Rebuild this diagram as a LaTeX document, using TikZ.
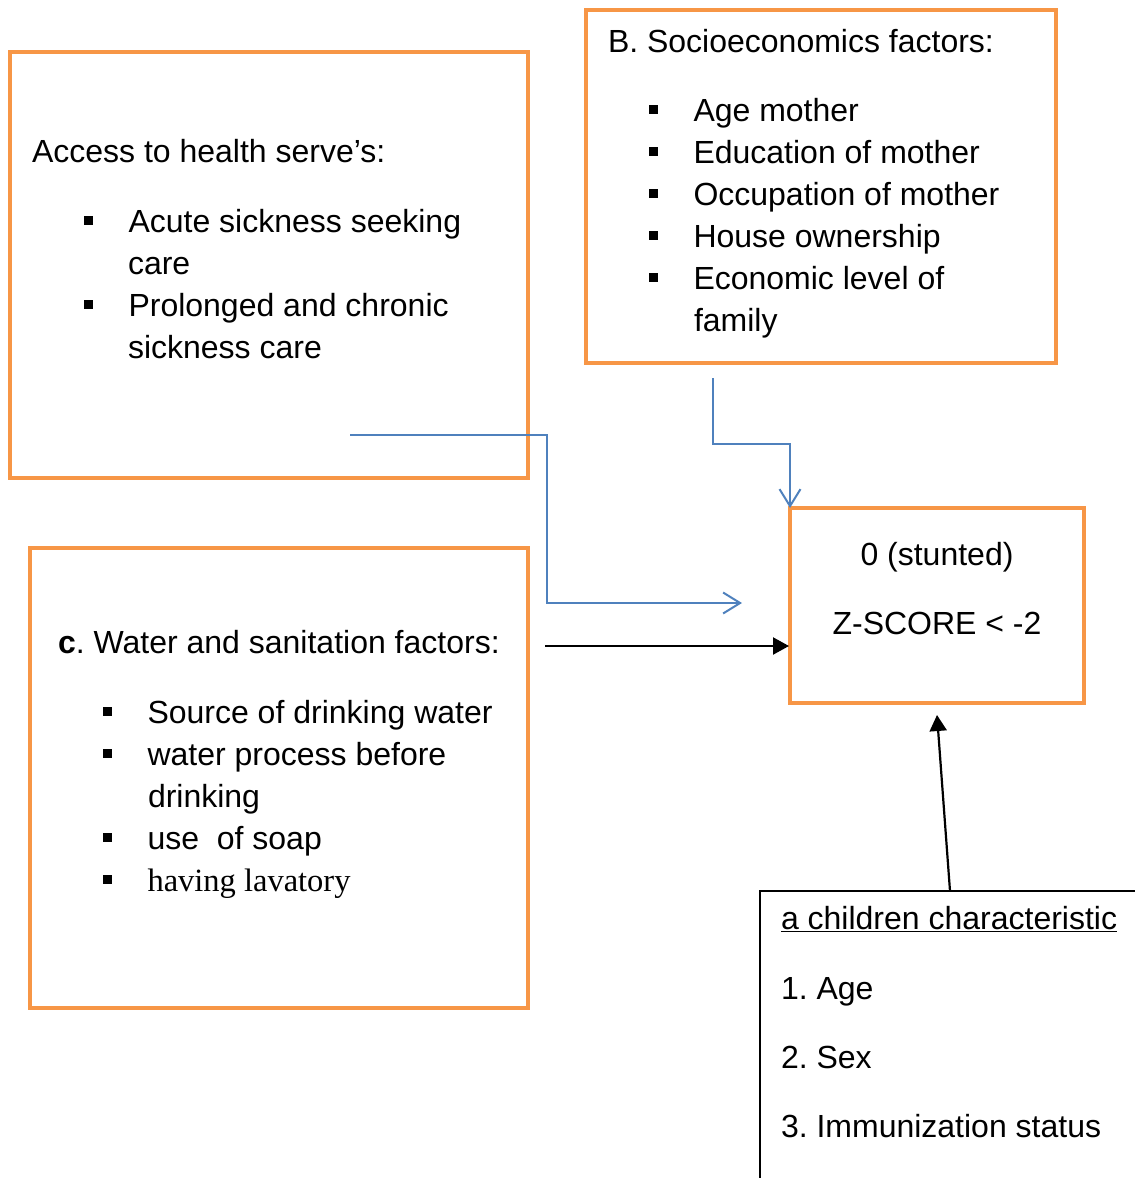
\documentclass[tikz,border=0pt]{standalone}
\usepackage{fontspec}
\setmainfont{Liberation Sans}
\newfontfamily\seriffont{Liberation Serif}
\usetikzlibrary{arrows.meta}
\definecolor{boxorange}{HTML}{F79646}
\definecolor{linkblue}{HTML}{4F81BD}
\newcommand\bulsq{\makebox[45pt][l]{\rule[7.5pt]{9pt}{9pt}}}
\frenchspacing
\begin{document}
\begin{tikzpicture}[x=1pt,y=-1pt,
  obox/.style={draw=boxorange,line width=4.5pt,inner sep=0pt,outer sep=0pt,rectangle},
  txt/.style={anchor=base west,inner sep=0pt,outer sep=0pt,font=\fontsize{32}{38}\selectfont},
  ctxt/.style={anchor=base,inner sep=0pt,outer sep=0pt,font=\fontsize{32}{38}\selectfont},
  bluelink/.style={draw=linkblue,line width=2pt,-{Straight Barb[length=17pt,width=21pt]}},
  blacklink/.style={draw=black,line width=2.2pt,-{Triangle[length=16pt,width=17pt]}}]
\useasboundingbox (0,0) rectangle (1135,1178);
\clip (0,0) rectangle (1135,1178);

% boxes
\node[obox,minimum width=518pt,minimum height=426pt] (boxA) at (269,265) {};
\node[obox,minimum width=470pt,minimum height=353pt] (boxB) at (821,186.5) {};
\node[obox,minimum width=498pt,minimum height=460pt] (boxC) at (279,778) {};
\node[obox,minimum width=294pt,minimum height=195pt] (boxD) at (937,605.5) {};
\node[draw=black,line width=1.5pt,inner sep=0pt,outer sep=0pt,minimum width=400pt,minimum height=320pt] (boxE) at (960,1051) {};

% box A text
\node[txt] (a0) at (32,162) {Access to health serve’s:};
\node[txt] (a1) at (83.5,232) {\bulsq Acute sickness seeking};
\node[txt] (a2) at (128,274) {care};
\node[txt] (a3) at (83.5,316) {\bulsq Prolonged and chronic};
\node[txt] (a4) at (128,358) {sickness care};

% box B text
\node[txt] (b0) at (608,52) {B. Socioeconomics factors:};
\node[txt] (b1) at (648.5,121) {\bulsq Age mother};
\node[txt] (b2) at (648.5,163) {\bulsq Education of mother};
\node[txt] (b3) at (648.5,205) {\bulsq Occupation of mother};
\node[txt] (b4) at (648.5,247) {\bulsq House ownership};
\node[txt] (b5) at (648.5,289) {\bulsq Economic level of};
\node[txt] (b6) at (694,331) {family};

% box C text
\node[txt] (c0) at (58,653) {\textbf{c}. Water and sanitation factors:};
\node[txt] (c1) at (102.5,723) {\bulsq Source of drinking water};
\node[txt] (c2) at (102.5,765) {\bulsq water process before};
\node[txt] (c3) at (148,807) {drinking};
\node[txt] (c4) at (102.5,849) {\bulsq use\ \ of soap};
\node[txt] (c5) at (102.5,891) {\bulsq{\seriffont\fontsize{32.5}{38}\selectfont having lavatory}};

% box D text
\node[ctxt] (d0) at (937,565) {0 (stunted)};
\node[ctxt] (d1) at (937,634) {Z-SCORE < -2};

% box E text
\node[txt] (e0) at (781,929) {\underline{a children characteristic}};
\node[txt] (e1) at (781,999) {1. Age};
\node[txt] (e2) at (781,1068) {2. Sex};
\node[txt] (e3) at (781,1137) {3. Immunization status};

% connectors
\coordinate (p1s) at (350,435);
\coordinate (p1k) at (547,603);
\coordinate (p1e) at (742,603);
\draw[bluelink] (p1s) -| (p1k) -- (p1e);

\coordinate (p2s) at (713,378);
\coordinate (p2k) at (790,444);
\draw[bluelink] (p2s) |- (p2k) -- (boxD.north west);

\coordinate (k1s) at (545,646);
\draw[blacklink] (k1s) -- ([xshift=-1pt]boxD.west |- k1s);

\coordinate (k2s) at (950,891);
\draw[blacklink] (k2s) -- ([yshift=-12pt]boxD.south);
\end{tikzpicture}
\end{document}
